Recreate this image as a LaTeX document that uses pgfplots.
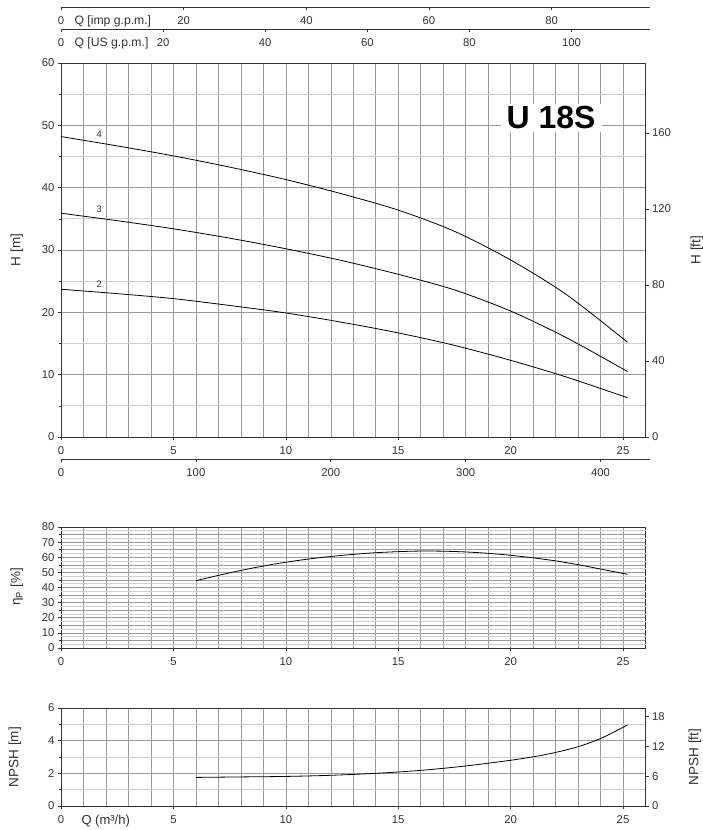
\documentclass[border=0pt]{standalone}
\usepackage{fontspec}
\setmainfont{Liberation Sans}
\usepackage{pgfplots}
\pgfplotsset{compat=1.18}

\definecolor{txt}{HTML}{333333}
\definecolor{gridd}{HTML}{9A9A9A}
\definecolor{gridl}{HTML}{CFCFCF}

\pgfplotsset{
  base/.style={
    scale only axis,
    axis line style={txt, line width=0.9pt},
    every tick/.style={txt, line width=0.6pt},
    major tick length=3pt, minor tick length=2pt,
    tick align=outside,
    /pgf/number format/assume math mode=true,
    tick label style={font=\fontsize{11.3}{13}\selectfont, text=txt},
  },
  pump/.style={
    base,
    width=584.5pt, xmin=0, xmax=26,
    xtick={0,5,...,25}, minor xtick={1,...,25},
    xtick pos=bottom, ytick pos=left,
    minor x tick style={draw=none},
    grid=both,
    major x grid style={gridd, line width=0.5pt},
    minor x grid style={gridd, line width=0.5pt},
    major y grid style={gridd, line width=0.5pt},
    minor y grid style={gridl, line width=0.9pt},
    xticklabel style={yshift=-3pt},
  },
  rightax/.style={
    base,
    width=584.5pt, xmin=0, xmax=26,
    axis x line=none, axis y line*=right,
    ytick pos=right,
  },
  flowax/.style={
    base,
    width=589pt, height=5pt, ymin=0, ymax=1,
    hide y axis, axis x line*=bottom,
    xticklabel style={yshift=-3pt},
  },
  crv/.style={black, line width=0.8pt, smooth},
}

\begin{document}
\begin{tikzpicture}[x=1pt,y=1pt]
\useasboundingbox (0,0) rectangle (702,830);

% flow scales on top
\begin{axis}[flowax, at={(61pt,823pt)}, anchor=south west,
  xmin=0, xmax=96.05, xtick={0,20,40,60,80}]
\end{axis}
\begin{axis}[flowax, at={(61pt,801pt)}, anchor=south west,
  xmin=0, xmax=115.36, xtick={0,20,40,60,80,100}]
\end{axis}
\node[anchor=west, text=txt, font=\fontsize{12.2}{14}\selectfont] at (71,809) {Q [imp g.p.m.]};
\node[anchor=west, text=txt, font=\fontsize{12.2}{14}\selectfont] at (71,787) {Q [US g.p.m.]};

% head curves
\begin{axis}[pump, at={(61pt,393pt)}, anchor=south west, height=374pt,
  ymin=0, ymax=60, ytick={0,10,...,60}, minor ytick={5,15,...,55}]
\addplot[crv] coordinates {(0,48.2) (2.5,46.7) (5,45.1) (7.5,43.3) (10,41.3)
  (12.5,39.0) (15,36.4) (17.5,33.0) (20,28.4) (22.5,22.8) (25.2,15.2)};
\addplot[crv] coordinates {(0,35.9) (2.5,34.7) (5,33.4) (7.5,31.9) (10,30.2)
  (12.5,28.3) (15,26.1) (17.5,23.6) (20,20.2) (22.5,15.9) (25.2,10.5)};
\addplot[crv] coordinates {(0,23.7) (2.5,23.0) (5,22.2) (7.5,21.1) (10,19.9)
  (12.5,18.4) (15,16.7) (17.5,14.7) (20,12.3) (22.5,9.6) (25.2,6.3)};
\node[font=\fontsize{9.5}{10}\selectfont, text=txt] at (axis cs:1.7,48.5) {4};
\node[font=\fontsize{9.5}{10}\selectfont, text=txt] at (axis cs:1.7,36.5) {3};
\node[font=\fontsize{9.5}{10}\selectfont, text=txt] at (axis cs:1.7,24.5) {2};
\node[fill=white, inner xsep=6pt, inner ysep=3pt, text=black,
  font=\fontsize{32}{34}\bfseries] at (axis cs:21.8,51.2) {U 18S};
\end{axis}
\begin{axis}[rightax, at={(61pt,393pt)}, anchor=south west, height=374pt,
  ymin=0, ymax=196.85, ytick={0,40,...,160}]
\end{axis}

% l/min scale
\begin{axis}[flowax, at={(61pt,371pt)}, anchor=south west,
  xmin=0, xmax=436.67, xtick={0,100,...,400}]
\end{axis}

\node[rotate=90, text=txt, font=\fontsize{13.5}{15}\selectfont] at (17,580) {H [m]};
\node[rotate=90, text=txt, font=\fontsize{13.5}{15}\selectfont] at (697,580) {H [ft]};

% efficiency
\begin{axis}[pump, at={(61pt,182pt)}, anchor=south west, height=121pt,
  ymin=0, ymax=80, ytick={0,10,...,80}, minor ytick={5,15,...,75},
  minor y grid style={gridd, line width=0.5pt},
  extra y ticks={2.5,7.5,...,77.5}, extra y tick labels={},
  extra y tick style={major tick length=0pt, grid=major,
    major y grid style={gridl, line width=0.9pt}}]
\addplot[crv] coordinates {(6,44.5) (7,48) (8,51.3) (9,54.2) (10,56.7) (11,58.8)
  (12,60.5) (13,61.9) (14,63.0) (15,63.7) (16,64.1) (17,64.0) (18,63.5)
  (19,62.6) (20,61.3) (21,59.6) (22,57.6) (23,55.1) (24,52.2) (25.2,48.7)};
\end{axis}
\node[rotate=90, text=txt, font=\fontsize{13.5}{15}\selectfont] at (17,243) {η\textsubscript{P} [\%]};

% NPSH
\begin{axis}[pump, at={(61pt,24pt)}, anchor=south west, height=98pt,
  ymin=0, ymax=6, ytick={0,2,4,6}, minor ytick={1,3,5}]
\addplot[crv] coordinates {(6,1.75) (8,1.78) (10,1.81) (12,1.88) (14,2.0)
  (16,2.18) (18,2.45) (20,2.8) (21,3.01) (22,3.28) (23,3.63) (24,4.13) (25.2,4.96)};
\end{axis}
\begin{axis}[rightax, at={(61pt,24pt)}, anchor=south west, height=98pt,
  ymin=0, ymax=19.685, ytick={0,6,12,18}]
\end{axis}
\node[rotate=90, text=txt, font=\fontsize{13.5}{15}\selectfont] at (15,73) {NPSH [m]};
\node[rotate=90, text=txt, font=\fontsize{13.5}{15}\selectfont] at (695,73) {NPSH [ft]};
\node[anchor=west, text=txt, font=\fontsize{13}{15}\selectfont] at (78,9) {Q (m³/h)};
\end{tikzpicture}
\end{document}
